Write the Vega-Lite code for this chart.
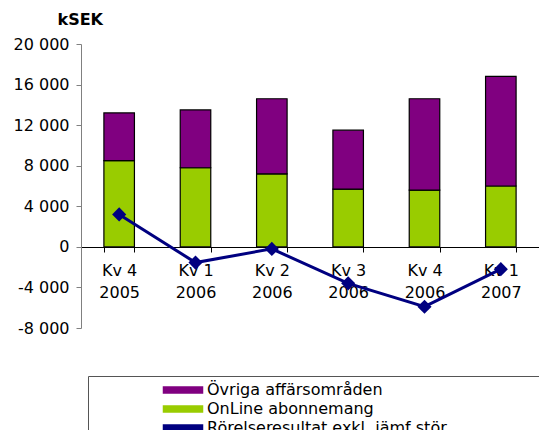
{
  "$schema": "https://vega.github.io/schema/vega-lite/v6.json",
  "width": 458,
  "height": 284,
  "autosize": {"type": "none"},
  "padding": {"left": 81, "top": 44, "right": 0, "bottom": 102},
  "background": "white",
  "config": {
    "view": {"stroke": null},
    "font": "DejaVu Sans",
    "locale": {"number": {"decimal": ",", "thousands": " ", "grouping": [3], "currency": ["", " kr"], "minus": "-"}}
  },
  "data": {
    "values": [
      {"kv": "Kv 4|2005", "serie": "OnLine abonnemang", "v": 8500},
      {"kv": "Kv 1|2006", "serie": "OnLine abonnemang", "v": 7800},
      {"kv": "Kv 2|2006", "serie": "OnLine abonnemang", "v": 7200},
      {"kv": "Kv 3|2006", "serie": "OnLine abonnemang", "v": 5700},
      {"kv": "Kv 4|2006", "serie": "OnLine abonnemang", "v": 5600},
      {"kv": "Kv 1|2007", "serie": "OnLine abonnemang", "v": 6000},
      {"kv": "Kv 4|2005", "serie": "Övriga affärsområden", "v": 4700},
      {"kv": "Kv 1|2006", "serie": "Övriga affärsområden", "v": 5700},
      {"kv": "Kv 2|2006", "serie": "Övriga affärsområden", "v": 7400},
      {"kv": "Kv 3|2006", "serie": "Övriga affärsområden", "v": 5800},
      {"kv": "Kv 4|2006", "serie": "Övriga affärsområden", "v": 9000},
      {"kv": "Kv 1|2007", "serie": "Övriga affärsområden", "v": 10800},
      {"kv": "Kv 4|2005", "serie": "Rörelseresultat exkl. jämf stör", "v": 3200},
      {"kv": "Kv 1|2006", "serie": "Rörelseresultat exkl. jämf stör", "v": -1550},
      {"kv": "Kv 2|2006", "serie": "Rörelseresultat exkl. jämf stör", "v": -200},
      {"kv": "Kv 3|2006", "serie": "Rörelseresultat exkl. jämf stör", "v": -3600},
      {"kv": "Kv 4|2006", "serie": "Rörelseresultat exkl. jämf stör", "v": -5900},
      {"kv": "Kv 1|2007", "serie": "Rörelseresultat exkl. jämf stör", "v": -2200}
    ]
  },
  "layer": [
    {
      "transform": [{"filter": "datum.serie !== 'Rörelseresultat exkl. jämf stör'"}],
      "mark": {"type": "bar", "stroke": "#000", "strokeWidth": 1.2},
      "encoding": {
        "x": {
          "field": "kv", "type": "nominal", "sort": null,
          "scale": {"paddingInner": 0.6, "paddingOuter": 0.3},
          "axis": {
            "title": null, "offset": -81, "tickBand": "extent",
            "labelExpr": "split(datum.label, '|')", "labelAngle": 0,
            "labelFontSize": 16, "labelColor": "#000", "labelPadding": 10,
            "labelBaseline": "top", "labelLineHeight": 22,
            "tickSize": 5, "domainColor": "#000", "tickColor": "#000"
          }
        },
        "y": {
          "field": "v", "type": "quantitative", "stack": "zero",
          "scale": {"domain": [-8000, 20000], "nice": false, "zero": false},
          "axis": {
            "title": "kSEK", "titleAngle": 0, "titleFontWeight": "bold", "titleFontSize": 16,
            "titleColor": "#000", "titleX": -24, "titleY": -25, "titleAlign": "left", "titleBaseline": "middle",
            "values": [-8000, -4000, 0, 4000, 8000, 12000, 16000, 20000], "format": ",d",
            "labelFontSize": 16, "labelColor": "#000", "tickSize": 5, "labelPadding": 7,
            "grid": false, "domainColor": "#808080", "tickColor": "#808080"
          }
        },
        "color": {
          "field": "serie", "type": "nominal",
          "scale": {
            "domain": ["Övriga affärsområden", "OnLine abonnemang", "Rörelseresultat exkl. jämf stör"],
            "range": ["#800080", "#99CC00", "#000080"]
          },
          "legend": {
            "orient": "none", "legendX": 7, "legendY": 332, "title": null,
            "strokeColor": "#555", "fillColor": "white", "padding": 6,
            "symbolSize": 100, "symbolOffset": 81, "labelOffset": 16,
            "symbolType": "M-3.9,-0.6H3.9V0.6H-3.9Z",
            "labelFontSize": 16, "labelColor": "#000", "labelLimit": 1000, "rowPadding": 3,
            "labelExpr": "datum.label + '\u00a0\u00a0\u00a0\u00a0\u00a0\u00a0\u00a0\u00a0\u00a0\u00a0\u00a0\u00a0\u00a0\u00a0\u00a0\u00a0\u00a0\u00a0\u00a0\u00a0\u00a0\u00a0\u00a0\u00a0\u00a0\u00a0\u00a0\u00a0\u00a0\u00a0\u00a0\u00a0\u00a0\u00a0\u00a0\u00a0\u00a0\u00a0\u00a0\u00a0\u00a0\u00a0\u00a0\u00a0\u00a0\u00a0\u00a0\u00a0\u00a0\u00a0\u00a0\u00a0\u00a0\u00a0\u00a0\u00a0\u00a0\u00a0\u00a0\u00a0\u200b'"
          }
        },
        "order": {"field": "serie", "sort": "ascending"}
      }
    },
    {
      "transform": [{"filter": "datum.serie === 'Rörelseresultat exkl. jämf stör'"}],
      "mark": {"type": "line", "strokeWidth": 3, "point": {"shape": "diamond", "size": 200, "filled": true, "opacity": 1}},
      "encoding": {
        "x": {"field": "kv", "type": "nominal", "sort": null},
        "y": {"field": "v", "type": "quantitative"},
        "color": {"field": "serie", "type": "nominal"}
      }
    }
  ]
}
